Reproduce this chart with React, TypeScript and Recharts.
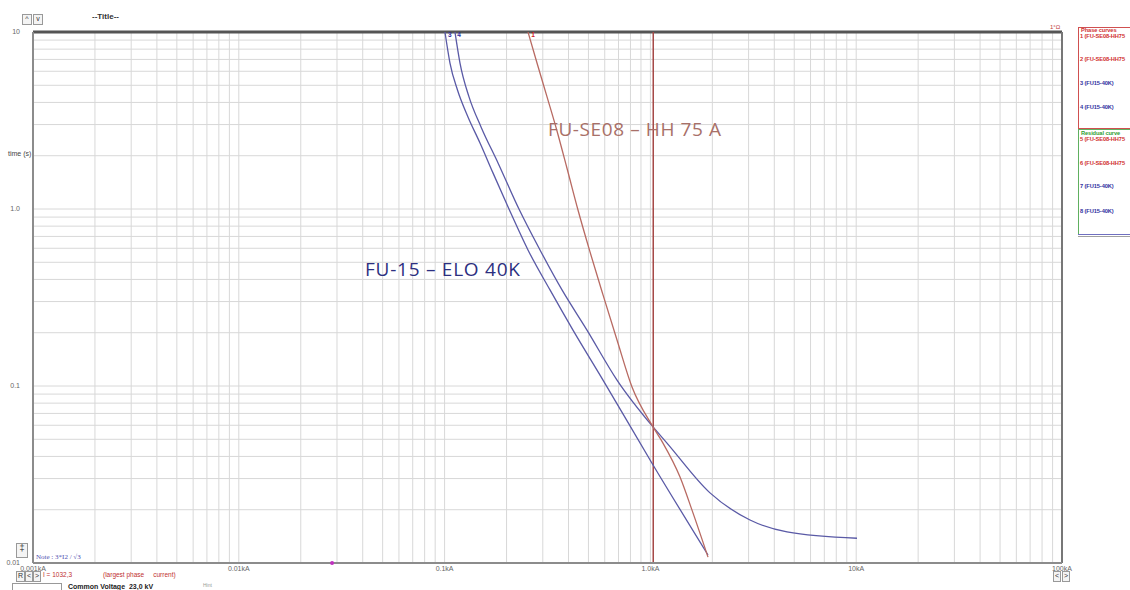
import React from 'react'
import { LineChart, Line, XAxis, YAxis, CartesianGrid, ReferenceLine, ReferenceDot } from 'recharts'

// FU-SE08 – HH 75 A (phase curve 1)
const hhCurrent = [0.2542, 0.2812, 0.3146, 0.3517, 0.3933, 0.4448, 0.5088, 0.5885, 0.6883, 0.8141, 1.03, 1.151, 1.393, 1.593, 1.905]
const hhTime = [10, 6.68, 4.3, 2.76, 1.7, 0.987, 0.572, 0.327, 0.182, 0.0987, 0.0587, 0.0476, 0.0306, 0.0199, 0.0108]

// FU15-40K minimum melt (phase curve 3)
const eloMinCurrent = [0.1004, 0.1062, 0.1155, 0.1299, 0.1486, 0.1718, 0.2055, 0.2542, 0.3252, 0.4206, 0.5885, 1.03, 1.905]
const eloMinTime = [10, 6.68, 4.7, 3.31, 2.36, 1.6, 1.0, 0.587, 0.349, 0.207, 0.108, 0.0358, 0.0111]

// FU15-40K total clearing (phase curve 4)
const eloMaxCurrent = [0.1123, 0.1188, 0.1314, 0.1503, 0.1818, 0.2298, 0.2908, 0.372, 0.4919, 0.6883, 1.03, 1.204, 1.948, 3.048, 4.611, 10.09]
const eloMaxTime = [10, 6.68, 4.3, 2.91, 1.82, 1.0, 0.587, 0.349, 0.207, 0.108, 0.0587, 0.0476, 0.0249, 0.0175, 0.015, 0.0138]

const largestPhaseCurrent = 1.0323
const markerCurrent = 0.0284

const xMajor = [0.001, 0.01, 0.1, 1, 10, 100]
const xLabels = ['0.001kA', '0.01kA', '0.1kA', '1.0kA', '10kA', '100kA']
const yMajor = [0.01, 0.1, 1, 10]
const yLabels = ['0.01', '0.1', '1.0', '10']
const steps = [1, 2, 3, 4, 5, 6, 7, 8, 9]

const withMinor = (majors: number[]) => {
  const out: number[] = []
  majors.slice(0, -1).forEach((m) => steps.forEach((s) => out.push(m * s)))
  out.push(majors[majors.length - 1])
  return out
}
const xTicks = withMinor(xMajor)
const yTicks = withMinor(yMajor)

const zip = (xs: number[], ys: number[]) => xs.map((i, k) => ({ i, t: ys[k] }))
const hhData = zip(hhCurrent, hhTime)
const eloMinData = zip(eloMinCurrent, eloMinTime)
const eloMaxData = zip(eloMaxCurrent, eloMaxTime)

const labelFor = (v: number, majors: number[], labels: string[]) => {
  const k = majors.findIndex((m) => Math.abs(Math.log10(m) - Math.log10(v)) < 1e-6)
  return k >= 0 ? labels[k] : ''
}

const XTick = ({ x, y, payload }: any) => (
  <text x={x} y={y + 8} textAnchor="middle" fontSize={7} fill="#666" fontFamily="Liberation Sans, Arial">
    {labelFor(payload.value, xMajor, xLabels)}
  </text>
)

const YTick = ({ x, y, payload }: any) => (
  <text x={x - 13} y={y + 2} textAnchor="end" fontSize={7} fill="#666" fontFamily="Liberation Sans, Arial">
    {labelFor(payload.value, yMajor, yLabels)}
  </text>
)

const TopTag = (color: string, txt: string) => (props: any) => (
  <text x={props.cx} y={props.cy + 2} textAnchor="middle" fontSize={6.5} fontWeight="bold" fill={color} fontFamily="Liberation Sans, Arial">
    {txt}
  </text>
)

const ui = { position: 'absolute' as const, fontFamily: 'Liberation Sans, Arial', whiteSpace: 'nowrap' as const, lineHeight: 1 }
const btn = { ...ui, border: '1px solid #999', background: '#f4f4f4', fontSize: 7, textAlign: 'center' as const, color: '#333' }
const legendText = { ...ui, fontSize: 5.7, fontWeight: 'bold' as const, letterSpacing: -0.1 }

export default function App() {
  return (
    <div style={{ position: 'absolute', left: 0, top: 0, width: 1130, height: 590, overflow: 'hidden', background: '#fff' }}>
      <LineChart width={1130} height={590} margin={{ top: 32, right: 68, bottom: 0, left: 0 }}>
        <CartesianGrid stroke="#d8d8d8" strokeWidth={1} />
        <XAxis
          dataKey="i"
          type="number"
          scale="log"
          domain={[0.001, 100]}
          ticks={xTicks}
          interval={0}
          allowDataOverflow
          height={27}
          tickSize={0}
          tickMargin={0}
          tick={<XTick />}
          axisLine={{ stroke: '#8c8c8c', strokeWidth: 2 }}
        />
        <YAxis
          dataKey="t"
          type="number"
          scale="log"
          domain={[0.01, 10]}
          ticks={yTicks}
          interval={0}
          allowDataOverflow
          width={33}
          tickSize={0}
          tickMargin={0}
          tick={<YTick />}
          axisLine={{ stroke: '#8c8c8c', strokeWidth: 2 }}
        />
        <ReferenceLine y={10} stroke="#555" strokeWidth={3} />
        <ReferenceLine x={100} stroke="#777" strokeWidth={2} />
        <ReferenceLine x={largestPhaseCurrent} stroke="#a54846" strokeWidth={1.5} />
        <Line data={eloMinData} dataKey="t" type="monotone" stroke="#5a5aa6" strokeWidth={1.3} dot={false} isAnimationActive={false} />
        <Line data={eloMaxData} dataKey="t" type="monotone" stroke="#5a5aa6" strokeWidth={1.3} dot={false} isAnimationActive={false} />
        <Line data={hhData} dataKey="t" type="monotone" stroke="#b86a62" strokeWidth={1.3} dot={false} isAnimationActive={false} />
        <ReferenceDot x={0.106} y={9.6} r={2} shape={TopTag('#3030a0', '3')} />
        <ReferenceDot x={0.1175} y={9.6} r={2} shape={TopTag('#3030a0', '4')} />
        <ReferenceDot x={0.269} y={9.6} r={2} shape={TopTag('#d02020', '1')} />
        <ReferenceDot x={markerCurrent} y={0.01} r={2} fill="#c030c0" stroke="none" />
      </LineChart>

      <div style={{ ...ui, left: 548, top: 120, fontSize: 19, letterSpacing: 0.6, fontFamily: 'Open Sans', color: '#a87068' }}>FU-SE08 – HH 75 A</div>
      <div style={{ ...ui, left: 365, top: 260, fontSize: 19, letterSpacing: 0.75, fontFamily: 'Open Sans', color: '#2c2f80' }}>FU-15 – ELO 40K</div>

      <div style={{ ...btn, left: 22, top: 14, width: 8, height: 9 }}>^</div>
      <div style={{ ...btn, left: 33, top: 14, width: 8, height: 9 }}>v</div>
      <div style={{ ...ui, left: 92, top: 13, fontSize: 8, fontWeight: 'bold', color: '#333' }}>--Title--</div>
      <div style={{ ...ui, left: 8, top: 150, fontSize: 7, color: '#444' }}>time (s)</div>
      <div style={{ ...ui, left: 1050, top: 24, fontSize: 6, color: '#c04040' }}>1°Ω</div>

      <div style={{ ...btn, left: 16, top: 543, width: 10, height: 13, fontSize: 9 }}>‡</div>
      <div style={{ ...ui, left: 36, top: 554, fontSize: 7, fontFamily: 'Liberation Serif', color: '#5050b0' }}>Note : 3*I2 / √3</div>
      <div style={{ ...btn, left: 16, top: 571, width: 7, height: 9 }}>R</div>
      <div style={{ ...btn, left: 25, top: 571, width: 6, height: 9 }}>&lt;</div>
      <div style={{ ...btn, left: 33, top: 571, width: 6, height: 9 }}>&gt;</div>
      <div style={{ ...ui, left: 43, top: 572, fontSize: 6.5, color: '#c03030' }}>I = 1032,3</div>
      <div style={{ ...ui, left: 103, top: 572, fontSize: 6.5, color: '#c03030' }}>(largest phase&nbsp;&nbsp;&nbsp;&nbsp;&nbsp;current)</div>
      <div style={{ ...ui, left: 12, top: 583, width: 48, height: 10, border: '1px solid #999' }} />
      <div style={{ ...ui, left: 68, top: 583, fontSize: 7, fontWeight: 'bold', color: '#222' }}>Common Voltage&nbsp;&nbsp;23,0 kV</div>
      <div style={{ ...ui, left: 203, top: 583, fontSize: 5, color: '#999' }}>Hint</div>
      <div style={{ ...btn, left: 1053, top: 571, width: 6, height: 9 }}>&lt;</div>
      <div style={{ ...btn, left: 1062, top: 571, width: 6, height: 9 }}>&gt;</div>

      <div style={{ ...ui, left: 1078, top: 27, width: 70, height: 100, border: '1px solid #d05050' }} />
      <div style={{ ...ui, left: 1078, top: 129, width: 70, height: 104, border: '1px solid #60b060' }} />
      <div style={{ ...ui, left: 1078, top: 234, width: 70, height: 1, borderTop: '1px solid #7070c0', borderBottom: '1px solid #a0a0a0' }} />
      <div style={{ ...legendText, left: 1081, top: 28, color: '#d03030' }}>Phase curves</div>
      <div style={{ ...legendText, left: 1080, top: 34, color: '#d03030' }}>1 (FU-SE08-HH75</div>
      <div style={{ ...legendText, left: 1080, top: 57, color: '#d03030' }}>2 (FU-SE08-HH75</div>
      <div style={{ ...legendText, left: 1080, top: 81, color: '#3030a0' }}>3 (FU15-40K)</div>
      <div style={{ ...legendText, left: 1080, top: 105, color: '#3030a0' }}>4 (FU15-40K)</div>
      <div style={{ ...legendText, left: 1081, top: 131, color: '#30a030' }}>Residual curve</div>
      <div style={{ ...legendText, left: 1080, top: 137, color: '#d03030' }}>5 (FU-SE08-HH75</div>
      <div style={{ ...legendText, left: 1080, top: 161, color: '#d03030' }}>6 (FU-SE08-HH75</div>
      <div style={{ ...legendText, left: 1080, top: 184, color: '#3030a0' }}>7 (FU15-40K)</div>
      <div style={{ ...legendText, left: 1080, top: 209, color: '#3030a0' }}>8 (FU15-40K)</div>
    </div>
  )
}
